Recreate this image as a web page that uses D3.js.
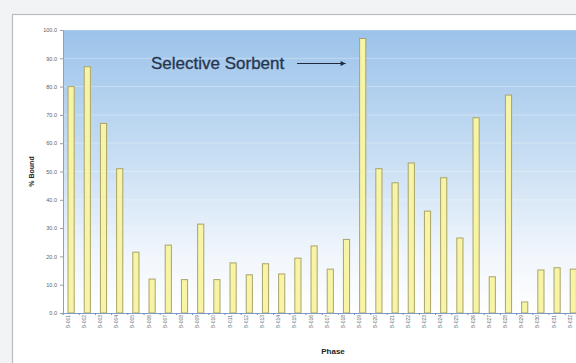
<!DOCTYPE html>
<html>
<head>
<meta charset="utf-8">
<script src="https://cdn.jsdelivr.net/npm/d3@7"></script>
<style>
  body { margin: 0; background: #f1f3f5; }
  svg { display: block; font-family: "Liberation Sans", Arial, sans-serif; }
</style>
</head>
<body>
<div id="chart"></div>
<script>
// phases along the x axis
var phases = ['B-001','B-002','B-003','B-004','B-005','B-006','B-007','B-008',
              'B-009','B-010','B-011','B-012','B-013','B-014','B-015','B-016',
              'B-017','B-018','B-019','B-020','B-021','B-022','B-023','B-024',
              'B-025','B-026','B-027','B-028','B-029','B-030','B-031','B-032']

// % bound for each phase
var bound = [80, 87, 67, 51, 21.5, 12, 24, 11.8,
             31.4, 11.8, 17.7, 13.5, 17.4, 13.8, 19.4, 23.7,
             15.5, 26, 97, 51, 46, 53, 36, 47.8,
             26.5, 69, 12.8, 77, 3.9, 15.2, 16, 15.5]

var yTicks = [0, 10, 20, 30, 40, 50, 60, 70, 80, 90, 100]

var W = 576, H = 363
var margin = {top: 30, left: 63, bottom: 50}
var plotW = 32 * 16.2, plotH = 283

var svg = d3.select("#chart")
    .append("svg")
    .attr("width", W)
    .attr("height", H)

// white card behind the chart
svg.append("rect")
    .attr("x", 12.5).attr("y", 14.5)
    .attr("width", 600).attr("height", 400)
    .attr("fill", "#ffffff")
    .attr("stroke", "#b9bcc0")
    .attr("stroke-width", 1.2)

var defs = svg.append("defs")
var grad = defs.append("linearGradient")
    .attr("id", "bg").attr("x1", 0).attr("y1", 0).attr("x2", 0).attr("y2", 1)
grad.append("stop").attr("offset", "0%").attr("stop-color", "#9cc3ea")
grad.append("stop").attr("offset", "45%").attr("stop-color", "#c8def3")
grad.append("stop").attr("offset", "78%").attr("stop-color", "#eff5fc")
grad.append("stop").attr("offset", "100%").attr("stop-color", "#ffffff")

var g = svg.append("g")
    .attr("transform", "translate(" + margin.left + "," + margin.top + ")")

// scales
var x = d3.scaleBand()
    .domain(phases)
    .range([0, plotW])
    .paddingInner(0.62)
    .paddingOuter(0.31)

var y = d3.scaleLinear()
    .domain([0, 100])
    .range([plotH, 0])

// plot background
g.append("rect")
    .attr("width", plotW).attr("height", plotH)
    .attr("fill", "url(#bg)")

// gridlines
g.selectAll(".grid")
    .data(yTicks.slice(1))
    .enter()
    .append("line")
    .attr("x1", 0).attr("x2", plotW)
    .attr("y1", function(d) { return y(d) })
    .attr("y2", function(d) { return y(d) })
    .attr("stroke", "#ffffff")
    .attr("stroke-opacity", 0.3)
    .attr("stroke-width", 1)

// bars
g.selectAll(".bar")
    .data(bound)
    .enter()
    .append("rect")
    .attr("x", function(d, i) { return x(phases[i]) })
    .attr("y", function(d) { return y(d) })
    .attr("width", x.bandwidth())
    .attr("height", function(d) { return plotH - y(d) })
    .attr("fill", "#f7f4a6")
    .attr("stroke", "#aaa469")
    .attr("stroke-width", 1)

// y axis
var yAxis = g.append("g")
    .call(d3.axisLeft(y).tickValues(yTicks).tickFormat(d3.format(".1f")).tickSize(3))
yAxis.select(".domain").attr("stroke", "#9a9ea4")
yAxis.selectAll(".tick line").attr("stroke", "#9a9ea4")
yAxis.selectAll("text").attr("font-size", 5.5).attr("fill", "#5c6066")

// x axis
var xAxis = g.append("g")
    .attr("transform", "translate(0," + plotH + ")")
    .call(d3.axisBottom(x).tickSize(0).tickPadding(4))
xAxis.select(".domain").attr("stroke", "#7f9cc4")
xAxis.selectAll("text")
    .attr("font-size", 5)
    .attr("fill", "#6a6e74")
    .attr("transform", "rotate(-90)")
    .attr("text-anchor", "end")
    .attr("dx", "-0.4em")
    .attr("dy", "-0.3em")
    .attr("x", 0).attr("y", 0)

// small separator ticks between bars
xAxis.selectAll(".sep")
    .data(phases)
    .enter()
    .append("line")
    .attr("x1", function(d) { return x(d) - x.step() * x.paddingInner() / 2 })
    .attr("x2", function(d) { return x(d) - x.step() * x.paddingInner() / 2 })
    .attr("y1", 0).attr("y2", 2)
    .attr("stroke", "#6f8fc0")

// axis titles
svg.append("text")
    .attr("transform", "translate(34," + (margin.top + plotH / 2) + ") rotate(-90)")
    .attr("text-anchor", "middle")
    .attr("font-size", 7)
    .attr("font-weight", "bold")
    .attr("fill", "#222")
    .text("% Bound")

svg.append("text")
    .attr("x", 333).attr("y", 354)
    .attr("text-anchor", "middle")
    .attr("font-size", 8)
    .attr("font-weight", "bold")
    .attr("fill", "#222")
    .text("Phase")

// annotation
var peak = bound.indexOf(d3.max(bound))
svg.append("text")
    .attr("x", 151).attr("y", 69)
    .attr("font-size", 17)
    .attr("fill", "#26354f")
    .attr("stroke", "#26354f")
    .attr("stroke-width", 0.3)
    .text("Selective Sorbent")

defs.append("marker")
    .attr("id", "arrow")
    .attr("viewBox", "0 0 10 10")
    .attr("refX", 10).attr("refY", 5)
    .attr("markerWidth", 7).attr("markerHeight", 5)
    .attr("orient", "auto")
    .append("path")
    .attr("d", "M0,0L10,5L0,10z")
    .attr("fill", "#1f2a40")

svg.append("line")
    .attr("x1", 297).attr("y1", 63.5)
    .attr("x2", margin.left + x(phases[peak]) - 14).attr("y2", 63.5)
    .attr("stroke", "#1f2a40")
    .attr("stroke-width", 1)
    .attr("marker-end", "url(#arrow)")
</script>
</body>
</html>
